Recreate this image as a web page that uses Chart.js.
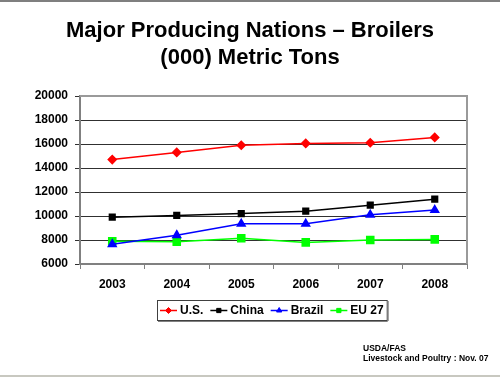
<!DOCTYPE html>
<html>
<head>
<meta charset="utf-8">
<script src="https://cdn.jsdelivr.net/npm/chart.js@4"></script>
<style>
  html, body { margin: 0; padding: 0; background: #fff; }
  #wrap { width: 500px; height: 377px; }
</style>
</head>
<body>
<div id="wrap"><canvas id="graph" width="500" height="377"></canvas></div>
<script>
// data
const years = ["2003", "2004", "2005", "2006", "2007", "2008"];
const usValues = [14700, 15300, 15900, 16050, 16100, 16550];
const chinaValues = [9900, 10050, 10200, 10400, 10900, 11400];
const brazilValues = [7650, 8400, 9350, 9350, 10100, 10500];
const euValues = [7900, 7850, 8150, 7800, 8000, 8050];
const yTicks = [6000, 8000, 10000, 12000, 14000, 16000, 18000, 20000];

const titleLines = ["Major Producing Nations \u2013 Broilers", "(000) Metric Tons"];
const sourceLines = ["USDA/FAS", "Livestock and Poultry : Nov. 07"];

const FONT = "Arial, 'Liberation Sans', sans-serif";

// title, frame, plot border, legend and source note
const decorations = {
  id: "decorations",
  afterDraw(chart) {
    const ctx = chart.ctx;
    const area = chart.chartArea;
    ctx.save();

    // outer frame lines
    ctx.fillStyle = "#7f7f7f";
    ctx.fillRect(0, 0, 500, 2);
    ctx.fillStyle = "#c8c8c0";
    ctx.fillRect(0, 375, 500, 2);

    // top and right plot border
    ctx.strokeStyle = "#9a9a9a";
    ctx.lineWidth = 2;
    ctx.beginPath();
    ctx.moveTo(area.left, area.top);
    ctx.lineTo(area.right, area.top);
    ctx.lineTo(area.right, area.bottom);
    ctx.stroke();

    // title
    ctx.fillStyle = "#000";
    ctx.textAlign = "center";
    ctx.textBaseline = "middle";
    ctx.font = "bold 22px " + FONT;
    ctx.fillText(titleLines[0], 250, 31);
    ctx.fillText(titleLines[1], 250, 58);

    // legend
    ctx.font = "bold 12px " + FONT;
    const lineLen = 17, gap = 3, itemGap = 7, pad = 3;
    const items = chart.data.datasets;
    let total = pad * 2;
    items.forEach((ds, i) => {
      total += lineLen + gap + ctx.measureText(ds.label).width;
      if (i < items.length - 1) total += itemGap;
    });
    const boxX = 157, boxY = 300, boxH = 20;
    ctx.fillStyle = "#fff";
    ctx.fillRect(boxX, boxY, total, boxH);
    ctx.strokeStyle = "#404040";
    ctx.lineWidth = 1;
    ctx.strokeRect(boxX + 0.5, boxY + 0.5, total, boxH);
    ctx.fillStyle = "#808080";
    ctx.fillRect(boxX + 1, boxY + boxH + 1, total, 1);
    ctx.fillRect(boxX + total + 1, boxY + 1, 1, boxH);

    let x = boxX + pad;
    const cy = boxY + boxH / 2 + 0.5;
    items.forEach((ds) => {
      ctx.strokeStyle = ds.borderColor;
      ctx.fillStyle = ds.borderColor;
      ctx.lineWidth = 1.5;
      ctx.beginPath();
      ctx.moveTo(x, cy);
      ctx.lineTo(x + lineLen, cy);
      ctx.stroke();
      ctx.lineWidth = 1;
      Chart.helpers.drawPoint(ctx, {
        pointStyle: ds.pointStyle,
        radius: 3,
        borderWidth: 1
      }, x + lineLen / 2, cy);
      x += lineLen + gap;
      ctx.fillStyle = "#000";
      ctx.textAlign = "left";
      ctx.fillText(ds.label, x, cy);
      x += ctx.measureText(ds.label).width + itemGap;
    });

    // source note
    ctx.font = "bold 8.5px " + FONT;
    ctx.fillStyle = "#000";
    ctx.textAlign = "left";
    ctx.fillText(sourceLines[0], 363, 349);
    ctx.fillText(sourceLines[1], 363, 359);

    ctx.restore();
  }
};

function series(label, data, color, style, radius) {
  return {
    label: label,
    data: data,
    borderColor: color,
    backgroundColor: color,
    pointBackgroundColor: color,
    pointBorderColor: color,
    pointStyle: style,
    pointRadius: radius,
    pointHoverRadius: radius,
    borderWidth: 1.5,
    tension: 0
  };
}

const chart = new Chart(document.getElementById("graph"), {
  type: "line",
  data: {
    labels: years,
    datasets: [
      series("U.S.", usValues, "#ff0000", "rectRot", 4),
      series("China", chinaValues, "#000000", "rect", 4),
      series("Brazil", brazilValues, "#0000ff", "triangle", 4.5),
      series("EU 27", euValues, "#00ff00", "rect", 5)
    ]
  },
  options: {
    responsive: false,
    animation: false,
    devicePixelRatio: 1,
    layout: { padding: { left: 0, right: 33, top: 96, bottom: 83 } },
    plugins: {
      legend: { display: false },
      title: { display: false },
      tooltip: { enabled: false }
    },
    scales: {
      x: {
        offset: true,
        grid: {
          offset: true,
          drawOnChartArea: false,
          drawTicks: true,
          tickLength: 5,
          color: "#808080"
        },
        border: { color: "#808080", width: 2 },
        ticks: {
          color: "#000",
          font: { family: FONT, size: 12, weight: "bold" },
          padding: 8,
          maxRotation: 0
        },
        afterFit(scale) { scale.height = 30; }
      },
      y: {
        min: 6000,
        max: 20000,
        afterBuildTicks(scale) {
          scale.ticks = yTicks.map((v) => ({ value: v }));
        },
        grid: {
          color: "#303030",
          lineWidth: 1,
          tickLength: 5
        },
        border: { color: "#808080", width: 2 },
        ticks: {
          color: "#000",
          font: { family: FONT, size: 12, weight: "bold" },
          padding: 7,
          callback: (v) => String(v)
        },
        afterFit(scale) { scale.width = 80; }
      }
    }
  },
  plugins: [decorations]
});
</script>
</body>
</html>
